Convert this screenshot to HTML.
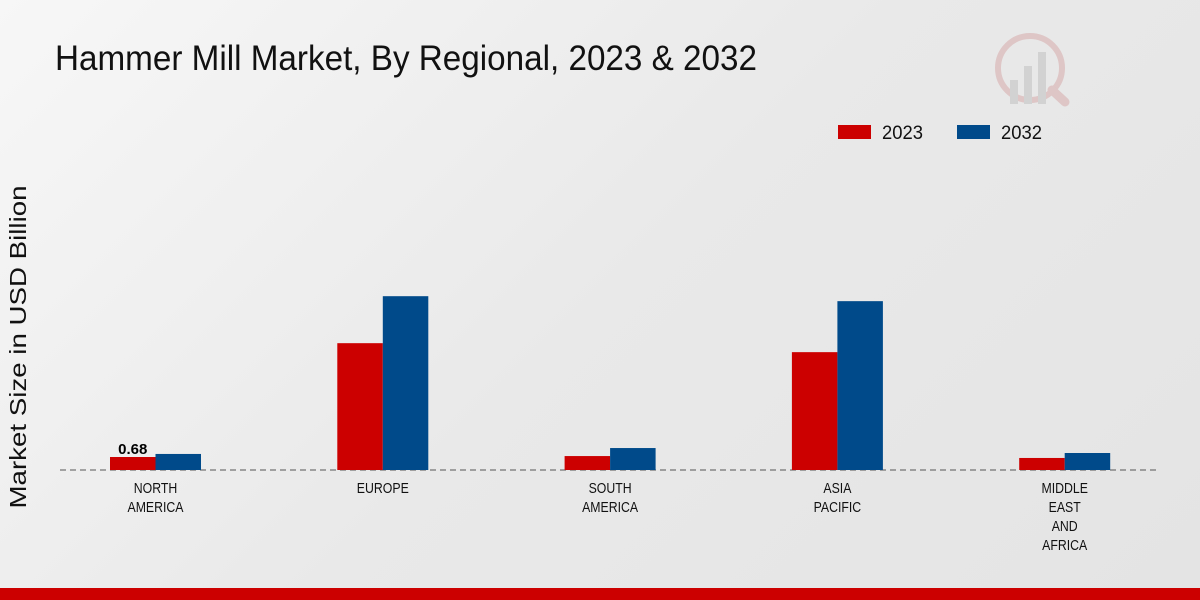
<!DOCTYPE html>
<html><head><meta charset="utf-8"><style>
html,body{margin:0;padding:0}
body{width:1200px;height:600px;overflow:hidden;background:linear-gradient(135deg,#f7f7f7 0%,#e9e9e9 50%,#e4e4e4 100%);font-family:"Liberation Sans",sans-serif;position:relative}
</style></head><body>
<svg width="1200" height="600" style="position:absolute;left:0;top:0">
<text x="55" y="70" font-size="35" fill="#111" textLength="702" lengthAdjust="spacingAndGlyphs">Hammer Mill Market, By Regional, 2023 &amp; 2032</text>
<g opacity="0.35">
<circle cx="1030" cy="68" r="32" fill="none" stroke="#c88" stroke-width="6"/>
<rect x="1010" y="80" width="8" height="24" fill="#aaa"/><rect x="1024" y="66" width="8" height="38" fill="#aaa"/><rect x="1038" y="52" width="8" height="52" fill="#aaa"/>
<line x1="1052" y1="90" x2="1065" y2="102" stroke="#c88" stroke-width="9" stroke-linecap="round"/>
</g>
<g>
<rect x="838" y="125" width="33" height="14" fill="#cc0000"/>
<text x="882" y="139" font-size="19" fill="#111" textLength="41" lengthAdjust="spacingAndGlyphs">2023</text>
<rect x="957" y="125" width="33" height="14" fill="#004a8a"/>
<text x="1001" y="139" font-size="19" fill="#111" textLength="41" lengthAdjust="spacingAndGlyphs">2032</text>
</g>
<text transform="translate(26,347) rotate(-90)" text-anchor="middle" font-size="23" fill="#111" textLength="323" lengthAdjust="spacingAndGlyphs">Market Size in USD Billion</text>
<line x1="60" y1="470" x2="1160" y2="470" stroke="#555" stroke-dasharray="6,4"/>
<g id="bars"></g>
<g id="labels"></g>
</svg>
<div style="position:absolute;left:0;top:588px;width:1200px;height:12px;background:#cc0000"></div>
<script>
const categories=[["NORTH","AMERICA"],["EUROPE"],["SOUTH","AMERICA"],["ASIA","PACIFIC"],["MIDDLE","EAST","AND","AFRICA"]];
const values2023=[0.68,6.64,0.73,6.17,0.63];
const values2032=[0.84,9.1,1.15,8.84,0.89];
const valueLabels=["0.68",null,null,null,null];
const base=470,scale=19.1,x0=155.5,step=227.3,bw=45.5;
const yv=v=>base-v*scale;
const xc=i=>x0+i*step;
const NS="http://www.w3.org/2000/svg";
const bars=document.getElementById('bars'),labels=document.getElementById('labels');
categories.forEach((c,i)=>{
  [[values2023,'#cc0000',-bw,'2023'],[values2032,'#004a8a',0,'2032']].forEach(([arr,col,off,yr])=>{
    const r=document.createElementNS(NS,'rect');
    r.setAttribute('x',xc(i)+off);r.setAttribute('y',yv(arr[i]));
    r.setAttribute('width',bw);r.setAttribute('height',base-yv(arr[i]));r.setAttribute('fill',col);
    
    
    bars.appendChild(r);
  });
  if(valueLabels[i]){
    const t=document.createElementNS(NS,'text');
    t.setAttribute('x',xc(i)-bw/2);t.setAttribute('y',yv(values2023[i])-3);
    t.setAttribute('text-anchor','middle');t.setAttribute('font-size','15');t.setAttribute('font-weight','bold');
    t.textContent=valueLabels[i];
    
    
    labels.appendChild(t);
  }
  c.forEach((line,j)=>{
    const t=document.createElementNS(NS,'text');
    t.setAttribute('x',xc(i));t.setAttribute('y',493+j*19);
    t.setAttribute('text-anchor','middle');t.setAttribute('font-size','15');t.setAttribute('fill','#111');
    t.textContent=line;
    
    
    labels.appendChild(t);
    const w=t.getComputedTextLength();
    t.setAttribute('textLength',(w*0.82).toFixed(1));
    t.setAttribute('lengthAdjust','spacingAndGlyphs');
  });
});
</script>
</body></html>
